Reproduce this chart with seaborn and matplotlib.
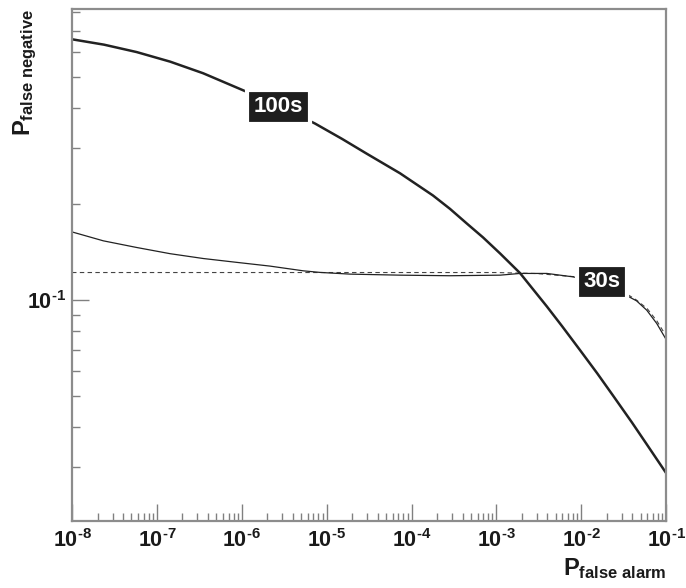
import numpy as np
import pandas as pd
import seaborn as sns
import matplotlib.pyplot as plt
import matplotlib.ticker as mticker

# 100 s curve (thick)
fa_100s = [1.0e-8, 2.38e-8, 5.78e-8, 1.43e-7, 3.50e-7, 1.15e-6, 2.99e-6, 7.31e-6,
           1.52e-5, 2.97e-5, 7.33e-5, 1.79e-4, 2.84e-4, 4.48e-4, 6.97e-4, 1.11e-3,
           1.90e-3, 3.93e-3, 5.94e-3, 9.68e-3, 1.54e-2, 2.37e-2, 3.97e-2, 5.92e-2, 1.0e-1]
fn_100s = [0.658, 0.633, 0.600, 0.560, 0.515, 0.450, 0.4027, 0.358,
           0.3205, 0.288, 0.250, 0.213, 0.1934, 0.174, 0.1573, 0.140,
           0.1216, 0.0956, 0.0829, 0.0697, 0.0590, 0.0502, 0.0413, 0.0353, 0.0287]

# 30 s curve (thin)
fa_30s = [1.0e-8, 2.34e-8, 5.78e-8, 1.43e-7, 3.52e-7, 8.73e-7, 2.15e-6, 5.32e-6,
          8.36e-6, 1.89e-5, 7.33e-5, 2.84e-4, 1.11e-3, 1.90e-3, 3.93e-3, 8.07e-3,
          1.66e-2, 2.88e-2, 4.49e-2, 5.92e-2, 7.76e-2, 1.0e-1]
fn_30s = [0.1637, 0.1535, 0.1463, 0.1399, 0.1351, 0.1314, 0.1279, 0.1236,
          0.1222, 0.1207, 0.1198, 0.1193, 0.1198, 0.1213, 0.1213, 0.1183,
          0.113, 0.106, 0.0995, 0.0930, 0.0845, 0.0753]

# dashed reference curve
fa_ref = [1.0e-8, 1.0e-5, 1.0e-3, 3.0e-3, 1.0e-2, 2.0e-2, 3.0e-2, 4.5e-2, 6.0e-2, 7.8e-2, 9.5e-2]
fn_ref = [0.1221, 0.1221, 0.1221, 0.1212, 0.118, 0.113, 0.107, 0.100, 0.094, 0.086, 0.079]

labels = ["100s", "30s"]
label_pos = [(2.71e-6, 0.404), (1.76e-2, 0.1143)]

x_major = [1e-8, 1e-7, 1e-6, 1e-5, 1e-4, 1e-3, 1e-2, 1e-1]
y_major = [1e-1]

sns.set_style("white")
plt.rcParams['font.family'] = ['Liberation Sans', 'DejaVu Sans']
plt.rcParams['mathtext.fontset'] = 'custom'
plt.rcParams['mathtext.rm'] = 'Liberation Sans:bold'
plt.rcParams['mathtext.it'] = 'Liberation Sans:bold'
plt.rcParams['mathtext.bf'] = 'Liberation Sans:bold'
plt.rcParams['mathtext.sf'] = 'Liberation Sans:bold'

df_100 = pd.DataFrame({"fa": fa_100s, "fn": fn_100s})
df_30 = pd.DataFrame({"fa": fa_30s, "fn": fn_30s})
df_ref = pd.DataFrame({"fa": fa_ref, "fn": fn_ref})

fig = plt.figure(figsize=(6.86, 5.88), dpi=100)
ax = fig.add_axes([0.105, 0.114, 0.866, 0.871])

sns.lineplot(data=df_ref, x="fa", y="fn", ax=ax, color="#444444", linewidth=0.8,
             linestyle=(0, (4, 3)), estimator=None, sort=False)
sns.lineplot(data=df_30, x="fa", y="fn", ax=ax, color="#222222", linewidth=0.9,
             estimator=None, sort=False)
sns.lineplot(data=df_100, x="fa", y="fn", ax=ax, color="#222222", linewidth=1.8,
             estimator=None, sort=False)

ax.set_xscale("log")
ax.set_yscale("log")
ax.set_xlim(1e-8, 1e-1)
ax.set_ylim(0.0203, 0.82)

for txt, (xx, yy) in zip(labels, label_pos):
    ax.text(xx, yy, txt, color="white", fontsize=16, fontweight="bold",
            ha="center", va="center", zorder=5,
            bbox=dict(boxstyle="square,pad=0.3", facecolor="#1e1e1e",
                      edgecolor="white", linewidth=3))

ax.xaxis.set_major_locator(mticker.FixedLocator(x_major))
ax.xaxis.set_minor_locator(mticker.LogLocator(base=10, subs=np.arange(2, 10), numticks=20))
ax.yaxis.set_major_locator(mticker.FixedLocator(y_major))
ax.yaxis.set_minor_locator(mticker.LogLocator(base=10, subs=np.arange(2, 10), numticks=20))
fmt = mticker.FuncFormatter(lambda v, p: "$10^{\u2010%d}$" % abs(int(round(np.log10(v)))))
ax.xaxis.set_major_formatter(fmt)
ax.yaxis.set_major_formatter(fmt)
ax.xaxis.set_minor_formatter(mticker.NullFormatter())
ax.yaxis.set_minor_formatter(mticker.NullFormatter())

ax.tick_params(which="both", direction="in", color="#808080", width=1.0,
               bottom=True, left=True, top=False, right=False,
               labelsize=15.5, labelcolor="#1a1a1a", pad=6)
ax.tick_params(axis="y", pad=4)
ax.tick_params(which="major", length=12)
ax.tick_params(which="minor", length=6)

for sp in ax.spines.values():
    sp.set_color("#8c8c8c")
    sp.set_linewidth(1.6)
    sp.set_visible(True)

ax.set_xlabel(r"$P_{false\ alarm}$", fontsize=17, loc="right", color="#1a1a1a")
ax.set_ylabel(r"$P_{false\ negative}$", fontsize=17, loc="top", color="#1a1a1a")
ax.xaxis.set_label_coords(1.0, -0.068)
ax.yaxis.set_label_coords(-0.055, 1.0)

fig.savefig("out.png", dpi=100)
